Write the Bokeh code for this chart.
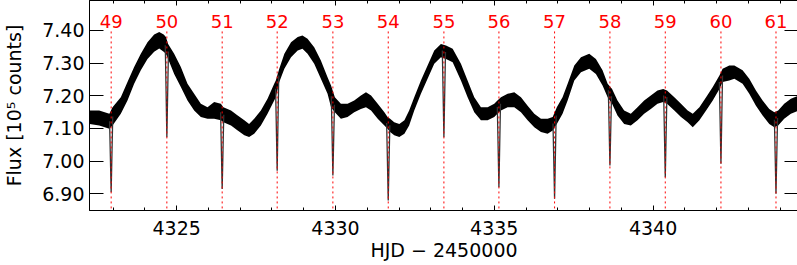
from bokeh.plotting import figure
from bokeh.models import (LinearAxis, FixedTicker, Range1d, PrintfTickFormatter,
                          CustomJSTickFormatter, ColumnDataSource)
from bokeh.embed import file_html
from bokeh.resources import INLINE
from bokeh.core.properties import value

# ---------------- data ----------------
hjd = [4322.26, 4322.56, 4322.88, 4322.98, 4323.24, 4323.45, 4323.66, 4323.87,
       4324.08, 4324.29, 4324.45, 4324.59, 4324.66, 4324.73, 4324.92, 4325.13,
       4325.34, 4325.55, 4325.76, 4325.97, 4326.18, 4326.39, 4326.47, 4326.71,
       4326.92, 4327.13, 4327.28, 4327.44, 4327.65, 4327.86, 4328.07, 4328.12,
       4328.23, 4328.39, 4328.60, 4328.81, 4328.96, 4329.12, 4329.33, 4329.54,
       4329.75, 4329.86, 4329.98, 4330.17, 4330.38, 4330.59, 4330.80, 4330.96,
       4331.12, 4331.33, 4331.54, 4331.64, 4331.72, 4331.85, 4332.01, 4332.17,
       4332.32, 4332.48, 4332.69, 4332.90, 4333.11, 4333.32, 4333.48, 4333.69,
       4333.95, 4334.16, 4334.37, 4334.58, 4334.79, 4335.00, 4335.10, 4335.21,
       4335.42, 4335.63, 4335.84, 4336.05, 4336.26, 4336.47, 4336.68, 4336.84,
       4336.97, 4337.15, 4337.31, 4337.52, 4337.73, 4337.99, 4338.20, 4338.41,
       4338.57, 4338.71, 4338.88, 4339.09, 4339.30, 4339.51, 4339.72, 4339.93,
       4340.14, 4340.32, 4340.44, 4340.67, 4340.88, 4341.09, 4341.25, 4341.46,
       4341.67, 4341.88, 4342.09, 4342.19, 4342.40, 4342.56, 4342.82, 4343.03,
       4343.24, 4343.45, 4343.66, 4343.82, 4343.94, 4344.13, 4344.34, 4344.58]
flux_hi = [7.155, 7.155, 7.145, 7.165, 7.196, 7.242, 7.288, 7.329,
           7.364, 7.388, 7.395, 7.388, 7.380, 7.359, 7.329, 7.288,
           7.237, 7.206, 7.176, 7.165, 7.181, 7.176, 7.165, 7.155,
           7.140, 7.125, 7.114, 7.130, 7.155, 7.191, 7.237, 7.247,
           7.283, 7.329, 7.364, 7.380, 7.385, 7.375, 7.349, 7.308,
           7.257, 7.232, 7.196, 7.176, 7.176, 7.186, 7.201, 7.211,
           7.201, 7.176, 7.150, 7.135, 7.130, 7.119, 7.114, 7.125,
           7.155, 7.196, 7.247, 7.293, 7.339, 7.359, 7.354, 7.344,
           7.298, 7.247, 7.196, 7.165, 7.165, 7.176, 7.186, 7.196,
           7.206, 7.211, 7.196, 7.170, 7.145, 7.130, 7.130, 7.135,
           7.165, 7.196, 7.237, 7.293, 7.318, 7.329, 7.313, 7.278,
           7.237, 7.221, 7.186, 7.155, 7.145, 7.165, 7.186, 7.201,
           7.216, 7.221, 7.216, 7.196, 7.176, 7.155, 7.145, 7.165,
           7.196, 7.227, 7.262, 7.283, 7.293, 7.293, 7.278, 7.252,
           7.216, 7.186, 7.160, 7.150, 7.155, 7.176, 7.191, 7.201]
flux_lo = [7.114, 7.109, 7.099, 7.109, 7.145, 7.186, 7.237, 7.278,
           7.313, 7.335, 7.345, 7.335, 7.329, 7.313, 7.267, 7.227,
           7.186, 7.155, 7.135, 7.130, 7.130, 7.125, 7.119, 7.109,
           7.094, 7.079, 7.074, 7.084, 7.109, 7.145, 7.186, 7.196,
           7.242, 7.283, 7.318, 7.339, 7.344, 7.329, 7.298, 7.252,
           7.206, 7.165, 7.150, 7.130, 7.135, 7.150, 7.160, 7.165,
           7.155, 7.130, 7.109, 7.099, 7.089, 7.079, 7.074, 7.084,
           7.109, 7.155, 7.206, 7.252, 7.298, 7.318, 7.313, 7.303,
           7.247, 7.196, 7.150, 7.125, 7.125, 7.135, 7.145, 7.155,
           7.165, 7.165, 7.150, 7.125, 7.104, 7.089, 7.084, 7.094,
           7.114, 7.145, 7.186, 7.247, 7.272, 7.283, 7.267, 7.232,
           7.196, 7.176, 7.140, 7.114, 7.109, 7.125, 7.145, 7.160,
           7.176, 7.181, 7.176, 7.155, 7.135, 7.119, 7.104, 7.125,
           7.155, 7.186, 7.221, 7.242, 7.247, 7.252, 7.237, 7.206,
           7.170, 7.140, 7.114, 7.104, 7.109, 7.130, 7.145, 7.155]

ecl_cycle = [49, 50, 51, 52, 53, 54, 55, 56, 57, 58, 59, 60, 61]
ecl_time = [4322.936, 4324.690, 4326.432, 4328.164, 4329.918, 4331.661, 4333.414,
            4335.146, 4336.899, 4338.642, 4340.385, 4342.138, 4343.871]
ecl_pre = [7.122, 7.355, 7.150, 7.222, 7.199, 7.117, 7.339,
           7.166, 7.115, 7.217, 7.201, 7.242, 7.127]
ecl_min = [6.905, 7.073, 6.915, 6.971, 6.956, 6.880, 7.073,
           6.920, 6.885, 6.987, 6.951, 6.992, 6.900]
ecl_post = [7.137, 7.336, 7.142, 7.262, 7.173, 7.110, 7.334,
            7.176, 7.140, 7.199, 7.196, 7.262, 7.132]

y_ticks = [6.90, 7.00, 7.10, 7.20, 7.30, 7.40]
x_ticks = [4325, 4330, 4335, 4340]
x_minor = list(range(4323, 4345))

FONT_NAME = "DejaVu Sans"

p = figure(frame_width=709, frame_height=210,
           x_range=Range1d(4322.254, 4344.58), y_range=Range1d(6.849, 7.4918),
           output_backend="svg", toolbar_location=None,
           min_border_left=87, min_border_right=1, min_border_top=0,
           min_border_bottom=0, background_fill_color="white",
           border_fill_color="white")
p.grid.visible = False
p.outline_line_color = "black"
p.outline_line_width = 1

# light curve: noisy band
p.varea(x=hjd, y1=flux_lo, y2=flux_hi, fill_color="black")

# eclipses
xs = [[t - 0.05, t, t + 0.05] for t in ecl_time]
ys = [[a, b, c] for a, b, c in zip(ecl_pre, ecl_min, ecl_post)]
p.multi_line(xs=xs, ys=ys, line_color="#333333", line_width=1.3)

# eclipse markers
src = ColumnDataSource(dict(t=ecl_time, lab=[str(c) for c in ecl_cycle],
                            y0=[6.84] * len(ecl_time), y1=[7.40] * len(ecl_time),
                            ylab=[7.426] * len(ecl_time)))
p.segment(x0="t", y0="y0", x1="t", y1="y1", source=src, line_color="red",
          line_width=1, line_dash="2 3")
p.text(x="t", y="ylab", text="lab", source=src, text_color="red",
       text_font=value(FONT_NAME), text_font_size="18px", text_align="center",
       text_baseline="middle")

# axes
xa = p.xaxis[0]
xa.ticker = FixedTicker(ticks=x_ticks, minor_ticks=x_minor)
xa.axis_label = "HJD − 2450000"
ya = p.yaxis[0]
ya.ticker = FixedTicker(ticks=y_ticks)
ya.formatter = PrintfTickFormatter(format="%.2f")
ya.axis_label = "Flux [10⁵ counts]"

for ax in (xa, ya):
    ax.major_label_text_font = FONT_NAME
    ax.major_label_text_font_size = "19px"
    ax.major_label_text_color = "black"
    ax.axis_label_text_font = FONT_NAME
    ax.axis_label_text_font_size = "19px"
    ax.axis_label_text_font_style = "normal"
    ax.axis_label_text_color = "black"
    ax.axis_line_color = "black"
    ax.major_tick_line_color = "black"
    ax.minor_tick_line_color = "black"
    ax.major_tick_out = 0
    ax.minor_tick_out = 0

xa.major_tick_in = 5
xa.minor_tick_in = 3
xa.major_label_standoff = 10
xa.axis_label_standoff = 1
ya.major_tick_in = 14
ya.minor_tick_in = 0
ya.major_label_standoff = 5
ya.axis_label_standoff = 14

blank = CustomJSTickFormatter(code="return ''")
ra = LinearAxis(ticker=FixedTicker(ticks=y_ticks), formatter=blank,
                major_tick_in=14, major_tick_out=0, minor_tick_in=0, minor_tick_out=0,
                major_label_standoff=0, axis_line_color="black",
                major_tick_line_color="black", major_label_text_font_size="1px")
ta = LinearAxis(ticker=FixedTicker(ticks=x_ticks, minor_ticks=x_minor), formatter=blank,
                major_tick_in=5, major_tick_out=0, minor_tick_in=3, minor_tick_out=0,
                major_label_standoff=0, axis_line_color="black",
                major_tick_line_color="black", minor_tick_line_color="black",
                major_label_text_font_size="1px")
p.add_layout(ra, "right")
p.add_layout(ta, "above")

open("out.html", "w").write(file_html(p, INLINE))
